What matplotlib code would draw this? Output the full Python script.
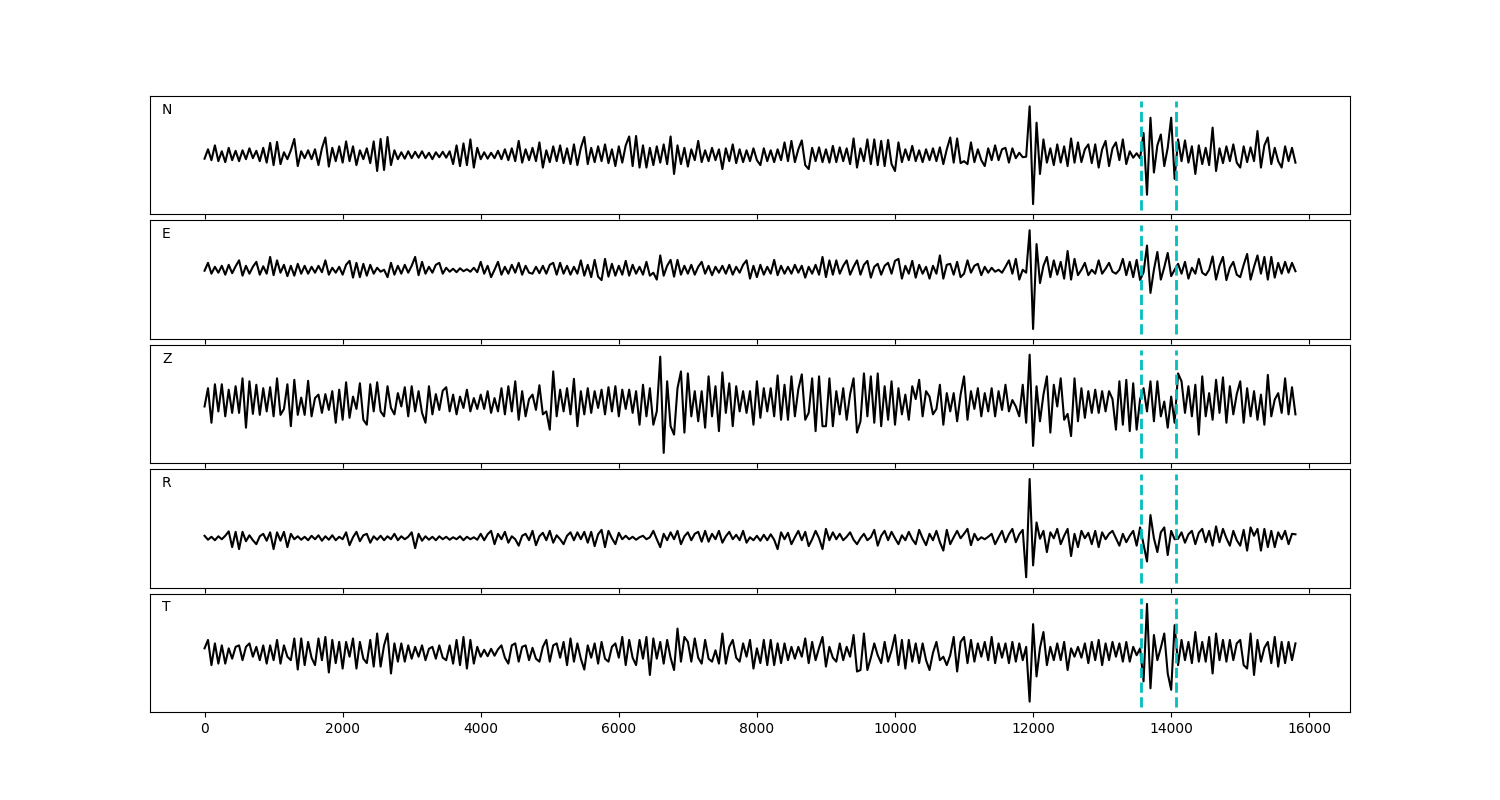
import numpy as np
import matplotlib
matplotlib.use("Agg")
import matplotlib.pyplot as plt

DT = 50                      # samples between picked amplitudes
PICKS = [13570, 14070]       # phase picks (dashed cyan)
COMPONENTS = ["N", "E", "Z", "R", "T"]

# normalised amplitude in percent, one row = 500 samples
N_AMP = [
    -7, 12, -10, 20, -12, 8, -14, 15, -10, 9,
    -12, 10, -8, 14, -6, 9, -12, 15, -15, 25,
    -20, 27, -18, 6, -8, 10, 33, -22, 8, -6,
    10, -8, 12, -20, 14, 36, -23, 15, -12, 18,
    -15, 28, -12, 18, -20, 10, -8, 14, -16, 28,
    -32, 33, -30, 37, -20, 10, -8, 6, -7, 8,
    -6, 7, -5, 8, -6, 5, -8, 6, -4, 7,
    -5, 8, -18, 20, -22, 24, -20, 32, -25, 15,
    -8, 6, -7, 5, -6, 9, -8, 12, -10, 14,
    -12, 29, -15, 12, -10, 15, -12, 26, -25, 10,
    -14, 18, -12, 20, -16, 14, -18, 22, -20, 15,
    37, -18, 15, -14, 18, -12, 22, -16, 12, -22,
    18, -15, 20, 38, -22, 39, -25, 20, -25, 15,
    -20, 18, -15, 22, -18, 38, -38, 20, -18, 15,
    -23, 12, -10, 29, -14, 10, -12, 15, -10, 12,
    -28, 14, -12, 22, -16, 12, -14, 10, -12, 14,
    -10, -20, 14, -12, 10, -14, 12, -10, 26, -12,
    29, -14, 12, 30, -20, -28, 15, -12, 16, -14,
    12, -15, 19, -14, 16, -12, 14, -18, 34, -25,
    14, -12, 32, -18, 32, -20, 29, -22, 31, -18,
    -32, 26, -14, 12, -10, 19, -12, 10, -14, 12,
    -10, 14, -12, 16, -18, 12, 36, -15, 34, -16,
    -12, -18, 26, -14, 12, -10, -22, 14, -10, 20,
    -10, 12, 15, -15, 14, -6, 5, -4, -3, 99,
    -99, 66, -38, 32, -15, 14, -20, 22, -15, 18,
    -22, 34, -15, 26, -14, 12, 22, -16, 22, -25,
    12, 29, -22, 14, 26, -10, 32, -18, 8, -5,
    4, -6, 45, -80, 76, -35, 20, 42, -22, 15,
    76, -48, 32, -12, 30, -15, 18, -38, 20, -18,
    15, -20, 56, -32, 14, -16, 18, -12, 22, -15,
    -25, 18, -14, 16, -12, 49, -25, 20, 36, -18,
    15, -12, -25, 18, -12, 15, -15,
]

E_AMP = [
    18, 34, 12, 26, 14, 28, 10, 30, 13, 27,
    39, 8, 28, 12, 26, 36, 10, 27, 12, 46,
    9, 39, 14, 30, 7, 28, 8, 32, 12, 28,
    12, 26, 14, 28, 15, 39, 10, 24, 14, 26,
    10, 30, 38, 4, 34, 5, 32, 8, 30, 12,
    24, 16, 20, 5, 34, 10, 28, 12, 30, 14,
    28, 46, 9, 36, 12, 26, 14, 30, 34, 12,
    24, 16, 22, 15, 23, 17, 21, 16, 24, 15,
    36, 12, 28, 5, 20, 36, 10, 26, 12, 30,
    14, 34, 10, 28, 14, 12, 26, 13, 28, 12,
    30, 34, 10, 34, 12, 28, 10, 26, 12, 39,
    8, 30, 5, 40, 6, -1, 42, 6, 32, 8,
    28, 10, 38, 8, 30, 12, 26, 10, 36, 8,
    14, 0, 49, 8, 28, 40, 6, 40, 10, 28,
    12, 30, 10, 26, 36, 12, 28, 9, 26, 14,
    28, 12, 30, 10, 26, 14, 30, 39, 2, 28,
    5, 30, 10, 26, 12, 40, 9, 28, 12, 26,
    12, 30, 14, 28, 4, 26, 12, 30, 10, 46,
    5, 39, 10, 39, 12, 28, 39, 10, 26, 39,
    10, 30, 38, 4, 26, 32, 10, 28, 34, 12,
    38, 42, 2, 28, 12, 38, 4, 30, 12, 26,
    2, 28, 12, 49, 2, 30, 32, 10, 36, 5,
    12, 39, 14, 28, 32, 9, 26, 14, 24, 16,
    20, 14, 26, 39, 12, 42, 0, 20, 14, 100,
    -100, 72, -7, 28, 46, 5, 39, 10, 36, 2,
    58, 0, 42, 9, 20, 34, 9, 20, 12, 39,
    12, 22, 34, 16, 12, 20, 42, 9, 36, 5,
    40, -1, 15, 69, -27, 20, 56, 0, 25, 54,
    7, 20, 32, 12, 36, 2, 24, 12, 42, 14,
    9, 20, 47, 0, 28, 46, -1, 24, 36, 10,
    5, 30, 52, 0, 26, 49, 12, 46, 0, 46,
    4, 34, 12, 36, 14, 34, 17,
]

Z_AMP = [
    -5, 32, -38, 40, -15, 40, -25, 29, -18, 36,
    -18, 52, -48, 46, -20, 39, -22, 32, -15, 34,
    -25, 52, -22, -10, 40, -45, 49, -22, 13, -22,
    47, -25, 12, 19, -18, 20, -12, 26, -38, 29,
    -32, 44, -28, 15, -10, 42, -32, -42, 40, -15,
    44, -15, -25, 36, -8, -21, 22, -5, 34, -25,
    36, -15, 26, -18, -38, 36, -21, 20, -12, 27,
    34, -15, 19, -21, 15, -8, 29, -15, 12, -10,
    19, -10, 26, -18, 12, -15, 32, -21, 36, -15,
    46, -32, 26, -25, 10, 19, -12, 38, -21, -15,
    -52, 66, -25, 29, -15, 32, -21, 51, -45, 26,
    -21, 32, -18, 26, -8, 29, -21, 34, -15, 36,
    -25, 29, -10, 29, -18, 26, -42, 39, -25, 32,
    -42, -15, 96, -99, 46, -45, -62, 32, 66, -58,
    62, -25, 26, -35, 26, -48, 56, -25, 36, -55,
    64, -18, 42, -45, 36, -15, 26, -18, 26, -42,
    46, -28, 32, -15, 32, -25, 58, -32, 39, -32,
    56, -25, 30, 60, -32, -18, 52, -55, 56, -45,
    -45, 52, -45, 26, -21, 32, -32, 20, 52, -58,
    -35, 62, -25, 56, -38, 62, -45, 36, -32, 46,
    -42, 32, -21, 19, -32, 36, 10, 49, -25, 26,
    15, -21, -10, 39, -42, 22, -15, 22, -35, 19,
    56, -32, 26, -10, 32, -25, 22, -15, 32, -25,
    26, -12, 39, -15, 8, -5, -25, 39, -38, 100,
    -85, 36, -35, 19, 56, -58, 39, -5, 52, -32,
    -20, -65, 52, -35, 32, -28, 26, -18, 29, -18,
    26, -15, 26, 10, -52, 46, -42, 49, -55, 42,
    -52, 10, 32, -15, 46, -35, 46, -25, 5, -48,
    15, -38, 62, 46, -18, 36, -25, 39, -62, 56,
    -25, 22, -32, 49, -18, 54, -38, 36, -21, 20,
    46, -38, 32, -25, 26, -32, 19, -42, 59, -25,
    9, 22, -18, 52, -21, 34, -21,
]

R_AMP = [
    -15, -23, -17, -24, -16, -22, -15, -6, -38, -7,
    -42, -7, -26, -14, -24, -32, -16, -11, -25, -8,
    -42, -8, -25, -7, -38, -11, -22, -16, -23, -17,
    -24, -15, -22, -14, -25, -16, -23, -14, -24, -17,
    -22, -8, -34, -18, -7, -26, -14, -11, -29, -16,
    -23, -15, -24, -16, -22, -11, -24, -16, -22, -17,
    -8, -40, -11, -25, -16, -23, -17, -24, -16, -22,
    -17, -23, -18, -22, -16, -24, -17, -22, -18, -23,
    -11, -24, -12, -5, -32, -11, -22, -7, -29, -16,
    -22, -35, -15, -11, -24, -5, -34, -16, -9, -24,
    -5, -29, -14, -22, -32, -15, -8, -24, -8, -22,
    -7, -29, -7, -36, -12, -3, -38, -5, -20, -32,
    -9, -22, -15, -22, -17, -23, -18, -15, -22, -18,
    -5, -22, -38, -11, -24, -8, -22, -5, -32, -16,
    -8, -24, -11, -7, -27, -5, -27, -11, -22, -5,
    -29, -16, -7, -22, -13, -24, -5, -29, -18, -24,
    -15, -25, -13, -24, -12, -23, -42, -8, -22, -9,
    -32, -18, -5, -24, -7, -36, -22, -5, -20, -42,
    -1, -24, -8, -22, -11, -24, -17, -8, -23, -32,
    -20, -11, -24, -18, -3, -35, -15, -5, -24, -7,
    -20, -32, -14, -24, -7, -22, -32, -3, -20, -34,
    -11, -24, -5, -28, -45, -3, -32, -18, -5, -20,
    -11, -1, -34, -11, -24, -18, -22, -17, -11, -32,
    -18, -5, -28, -12, -1, -28, -12, -3, -99, 100,
    -75, 12, -21, -5, -48, -8, -20, -1, -32, -15,
    -1, -56, -11, -38, -5, -20, -9, -32, -5, -38,
    -8, -22, -11, -5, -20, -35, -11, -28, -15, -5,
    -35, 2, -32, -67, 27, -20, -48, -8, 2, -54,
    -5, -22, -21, -8, -29, -12, -5, -32, -9, -1,
    -28, -5, -35, 4, -28, -1, -20, -35, -5, -24,
    -35, -3, -45, 2, -15, -1, -45, -1, -38, -5,
    -38, -8, -22, -5, -32, -11, -12,
]

T_AMP = [
    9, 26, -25, 19, -22, 15, -22, 9, -12, 12,
    15, -15, 12, 19, -8, 12, -15, 15, -22, 15,
    -15, 26, -22, 15, -8, -15, 29, -34, 29, -25,
    22, -10, -25, 29, -15, 32, -40, 26, -21, 22,
    -32, 22, -8, 29, -32, 22, -12, -21, 26, -28,
    39, -28, 15, 39, -42, 19, -18, 19, -18, 15,
    -12, 12, -8, 15, -15, 8, 12, -12, 15, -10,
    -15, 15, -22, 26, -25, 32, -32, 26, -22, 12,
    -8, 6, -7, 8, -6, 7, 15, -10, -22, 15,
    19, -18, 12, 15, -15, 10, -12, -18, 12, 26,
    -18, 15, 19, -10, 22, -25, 29, -18, 19, -12,
    -34, 15, -10, 19, -22, 22, -12, -18, 12, 19,
    -10, 32, -25, 26, -10, -25, 26, -12, 32, -45,
    29, -12, 22, -22, 26, -10, -35, 49, -18, 32,
    22, -18, 29, -10, -22, 26, -12, -18, 5, -22,
    39, -22, 12, 26, -10, -18, 19, -8, 26, -32,
    9, -21, 26, -25, 26, -25, 19, -21, 19, -15,
    12, -12, 12, -8, 29, -21, 22, -15, 10, 32,
    -28, 12, -10, -18, 19, -15, 12, -8, 36, -38,
    -35, 39, -35, -10, 19, -5, -21, 22, -18, 5,
    36, -25, 26, -32, 26, -18, 19, -21, 19, -15,
    -35, 0, 22, -15, -8, -25, -5, 32, -38, 22,
    32, -21, 26, -18, 19, -8, 22, -15, 32, -21,
    19, -10, 19, -21, 22, -18, 19, -15, 12, -99,
    58, -48, 10, 42, -25, 12, -15, 19, -15, 22,
    -35, 9, -8, 12, -10, 19, -21, 22, -15, 26,
    -25, 19, -15, 22, -8, 19, -18, 22, -18, 12,
    -5, 9, -58, 99, -72, 36, -15, 10, 39, -42,
    -75, 56, -25, 26, -15, 22, -21, 42, -18, 22,
    -18, 32, -42, 39, -15, 26, -18, 26, -15, 19,
    26, -25, -32, 39, -45, 26, -18, 10, 22, -21,
    32, -28, 22, -21, 22, -15, 19,
]


def main():
    traces = [N_AMP, E_AMP, Z_AMP, R_AMP, T_AMP]
    fig, axes = plt.subplots(5, 1, figsize=(15, 8), sharex=True,
                             gridspec_kw={"hspace": 0.05})
    fig.subplots_adjust(left=0.1, right=0.9, top=0.88, bottom=0.11)
    for ax, name, amp in zip(axes, COMPONENTS, traces):
        y = np.asarray(amp, dtype=float) / 100.0
        t = np.arange(len(y)) * DT
        ax.plot(t, y, color="k", lw=1.5)
        ax.vlines(PICKS, -1.1, 1.1, colors="c", linestyles="--", lw=2)
        ax.set_ylim(-1.2, 1.2)
        ax.set_yticks([])
        ax.text(0.01, 0.85, name, transform=ax.transAxes)
    fig.savefig("out.png", dpi=100)


if __name__ == "__main__":
    main()
